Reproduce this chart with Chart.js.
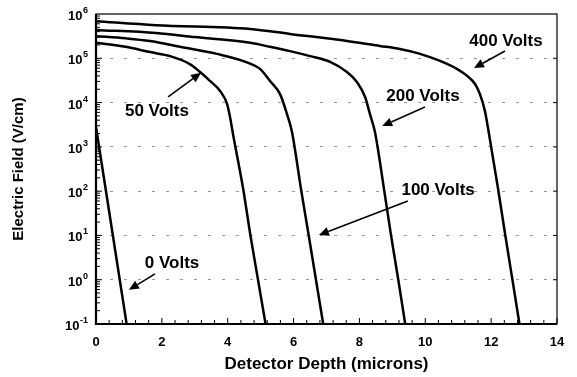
<!DOCTYPE html>
<html><head><meta charset="utf-8">
<script src="https://cdn.jsdelivr.net/npm/chart.js@4/dist/chart.umd.min.js"></script>
<style>html,body{margin:0;padding:0;background:#fff}#wrap{width:577px;height:377px}</style>
</head><body><div id="wrap"><canvas id="c" width="577" height="377"></canvas></div>
<script>
// ---- data (depth in microns, field in V/cm) ----
const seriesNames = ['0 Volts','50 Volts','100 Volts','200 Volts','400 Volts'];
const depth0V   = [0, 0.93];
const field0V   = [2800, 0.1];
const depth50V  = [0, 0.9, 1.64, 2.25, 2.85, 3.16, 3.46, 3.77, 3.98, 4.07, 4.16, 4.47, 4.69, 4.92, 5.15];
const field50V  = [2.24e5, 1.82e5, 1.38e5, 1.12e5, 7.4e4, 4.9e4, 3.1e4, 1.82e4, 9.3e3, 4.7e3, 1.95e3, 112, 10, 1, 0.1];
const depth100V = [0, 0.9, 1.64, 2.55, 3.67, 4.68, 4.98, 5.28, 5.59, 5.80, 5.95, 6.23, 6.46, 6.68, 6.9];
const field100V = [3.16e5, 2.82e5, 2.45e5, 1.82e5, 1.26e5, 7.6e4, 5.75e4, 3.1e4, 1.55e4, 5.5e3, 2.19e3, 107, 10, 1, 0.1];
const depth200V = [0, 1.82, 3.0, 4.68, 5.28, 5.89, 6.50, 7.11, 7.62, 7.93, 8.17, 8.32, 8.47, 8.75, 8.96, 9.18, 9.39];
const field200V = [4.37e5, 3.72e5, 3.02e5, 2.24e5, 1.82e5, 1.45e5, 1.12e5, 8.3e4, 4.9e4, 2.88e4, 1.35e4, 5.5e3, 2.19e3, 107, 10, 1, 0.1];
const depth400V = [0, 1.82, 4.68, 5.89, 7.3, 8.62, 9.23, 9.84, 10.45, 10.96, 11.27, 11.51, 11.66, 11.81, 11.90, 12.2, 12.42, 12.64, 12.86];
const field400V = [6.9e5, 5.6e5, 4.6e5, 3.55e5, 2.65e5, 1.9e5, 1.62e5, 1.26e5, 8.7e4, 5.75e4, 4.0e4, 2.63e4, 1.55e4, 6.5e3, 2.8e3, 126, 11.2, 1.07, 0.1];

const xTicks = [0, 2, 4, 6, 8, 10, 12, 14];
const yTickValues = [0.1, 1, 10, 100, 1e3, 1e4, 1e5, 1e6];
const yTickBase = '10';
const yTickExponents = ['-1', '0', '1', '2', '3', '4', '5', '6'];

// annotations: label position and arrow (data units)
const annoText  = ['400 Volts', '200 Volts', '100 Volts', '50 Volts', '0 Volts'];
const annoX     = [12.45, 9.93, 10.39, 1.85, 2.31];
const annoY     = [2.45e5, 1.41e4, 106, 6.2e3, 2.39];
const arrowFromX = [12.42, 9.99, 9.47, 2.19, 1.79];
const arrowFromY = [1.46e5, 7.9e3, 60, 1.35e4, 1.35];
const arrowToX   = [11.48, 8.69, 6.77, 3.19, 1.0];
const arrowToY   = [6.0e4, 2.95e3, 10.2, 4.7e4, 0.59];

const depths = [depth0V, depth50V, depth100V, depth200V, depth400V];
const fields = [field0V, field50V, field100V, field200V, field400V];

const datasets = seriesNames.map((n, i) => ({
  label: n,
  data: depths[i].map((x, j) => ({x: x, y: fields[i][j]})),
  borderColor: '#000',
  borderWidth: 2.5,
  pointRadius: 0,
  fill: false,
  cubicInterpolationMode: 'monotone'
}));

const FONT = "'Liberation Sans', Arial, Helvetica, sans-serif";

const decorPlugin = {
  id: 'decor',
  afterDatasetsDraw(chart) {
    const ctx = chart.ctx, a = chart.chartArea;
    const xs = chart.scales.x, ys = chart.scales.y;
    ctx.save();
    // frame
    ctx.strokeStyle = '#000';
    ctx.lineWidth = 1.2;
    ctx.strokeRect(a.left, a.top, a.right - a.left, a.bottom - a.top);
    ctx.lineWidth = 2.2;
    ctx.beginPath();
    ctx.moveTo(a.left, a.top); ctx.lineTo(a.left, a.bottom); ctx.lineTo(a.right, a.bottom);
    ctx.stroke();
    // y ticks (inside)
    ctx.lineWidth = 1;
    ctx.beginPath();
    for (let e = -1; e <= 5; e++) {
      for (let m = 1; m <= 9; m++) {
        const v = m * Math.pow(10, e);
        const py = ys.getPixelForValue(v);
        const len = m === 1 ? 6 : 4;
        ctx.moveTo(a.left, py); ctx.lineTo(a.left + len, py);
        if (m === 1) { ctx.moveTo(a.right, py); ctx.lineTo(a.right - 4, py); }
      }
    }
    // x ticks (inside)
    for (let k = 0; k <= 35; k++) {
      const v = k * 0.4;
      const px = xs.getPixelForValue(v);
      const len = (k % 5 === 0) ? 6 : 4;
      ctx.moveTo(px, a.bottom); ctx.lineTo(px, a.bottom - len);
    }
    ctx.stroke();
    // y tick labels with superscript exponents
    ctx.fillStyle = '#000';
    ctx.textBaseline = 'alphabetic';
    ctx.textAlign = 'left';
    for (let i = 0; i < yTickValues.length; i++) {
      const py = ys.getPixelForValue(yTickValues[i]);
      ctx.font = 'bold 9px ' + FONT;
      const we = ctx.measureText(yTickExponents[i]).width;
      ctx.font = 'bold 13px ' + FONT;
      const wb = ctx.measureText(yTickBase).width;
      const right = a.left - 8;
      ctx.fillText(yTickBase, right - we - wb - 0.5, py + 6);
      ctx.font = 'bold 9px ' + FONT;
      ctx.fillText(yTickExponents[i], right - we, py - 1);
    }
    // annotations
    ctx.font = 'bold 17px ' + FONT;
    ctx.textAlign = 'center';
    ctx.textBaseline = 'middle';
    for (let i = 0; i < annoText.length; i++) {
      ctx.fillText(annoText[i], xs.getPixelForValue(annoX[i]), ys.getPixelForValue(annoY[i]));
      const x1 = xs.getPixelForValue(arrowFromX[i]), y1 = ys.getPixelForValue(arrowFromY[i]);
      const x2 = xs.getPixelForValue(arrowToX[i]), y2 = ys.getPixelForValue(arrowToY[i]);
      const ang = Math.atan2(y2 - y1, x2 - x1);
      const hl = 10, hw = 4.5;
      const bx = x2 - hl * Math.cos(ang), by = y2 - hl * Math.sin(ang);
      ctx.lineWidth = 1.6;
      ctx.beginPath(); ctx.moveTo(x1, y1); ctx.lineTo(bx, by); ctx.stroke();
      ctx.beginPath();
      ctx.moveTo(x2, y2);
      ctx.lineTo(bx + hw * Math.sin(ang), by - hw * Math.cos(ang));
      ctx.lineTo(bx - hw * Math.sin(ang), by + hw * Math.cos(ang));
      ctx.closePath(); ctx.fill();
    }
    ctx.restore();
  }
};

new Chart(document.getElementById('c'), {
  type: 'line',
  data: { datasets: datasets },
  options: {
    responsive: false,
    animation: false,
    layout: { padding: { top: 14, right: 20, left: 0, bottom: 0 } },
    plugins: { legend: { display: false }, tooltip: { enabled: false } },
    scales: {
      x: {
        type: 'linear', min: 0, max: 14,
        afterFit(s) { s.height = 53; },
        afterBuildTicks(s) { s.ticks = xTicks.map(v => ({value: v})); },
        ticks: { color: '#000', font: { family: FONT, size: 13, weight: 'bold' }, padding: 11, maxRotation: 0 },
        grid: { display: false, drawTicks: false },
        border: { display: false },
        title: { display: true, text: 'Detector Depth (microns)', color: '#000',
                 font: { family: FONT, size: 17, weight: 'bold' }, padding: { top: 0, bottom: 2 } }
      },
      y: {
        type: 'logarithmic', min: 0.1, max: 1e6,
        afterFit(s) { s.width = 96; },
        afterBuildTicks(s) { s.ticks = yTickValues.map(v => ({value: v})); },
        ticks: { display: false },
        grid: {
          drawTicks: false,
          color: (c) => (c.tick && (c.tick.value <= 0.1 || c.tick.value >= 1e6)) ? 'rgba(0,0,0,0)' : '#999',
          lineWidth: 1
        },
        border: { display: false, dash: [3, 11] },
        title: { display: true, text: 'Electric Field (V/cm)', color: '#000',
                 font: { family: FONT, size: 15, weight: 'bold' }, padding: { top: 10, bottom: 0 } }
      }
    }
  },
  plugins: [decorPlugin]
});
</script>
</body></html>
